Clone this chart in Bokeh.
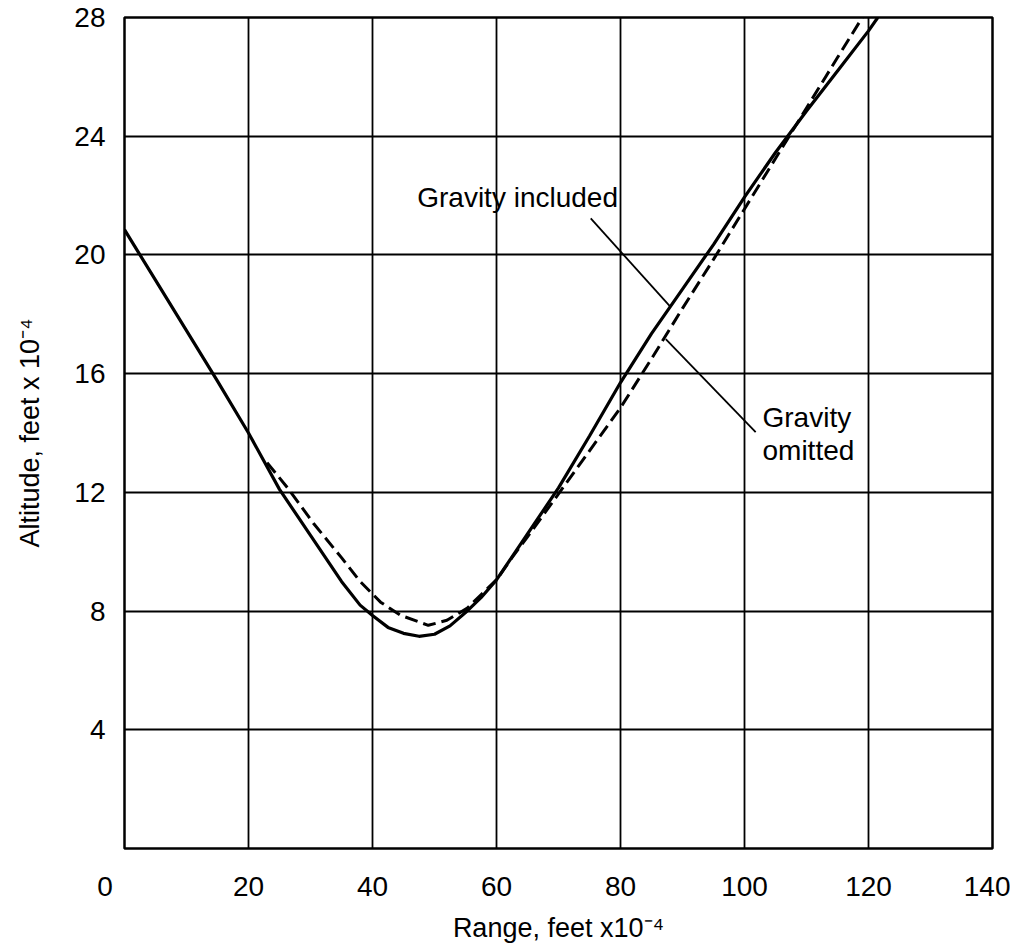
from bokeh.plotting import figure
from bokeh.models import Range1d, FixedTicker, Label
from bokeh.embed import file_html
from bokeh.resources import INLINE

# ---- data (range and altitude, feet x 10^-4) ----
incl_range = [0, 5, 10, 15, 20, 25, 30, 35, 38, 40, 42.5, 45, 47.5, 50, 52.5, 55, 57.5,
              60, 65, 70, 75, 80, 85, 90, 95, 100, 105, 110, 115, 120, 121.5]
incl_alt = [20.85, 19.15, 17.45, 15.75, 14.0, 12.1, 10.55, 9.0, 8.2, 7.85, 7.45, 7.25, 7.15,
            7.22, 7.5, 7.95, 8.45, 9.05, 10.6, 12.15, 13.9, 15.7, 17.35, 18.85, 20.35, 21.95,
            23.45, 24.85, 26.2, 27.55, 28.0]

omit_range = [23, 26.5, 30.5, 35, 38, 41.3, 44.5, 49, 52, 55.3, 57.5, 60, 62.5, 65, 70, 75,
              80, 85, 90, 95, 100, 105, 110, 115, 119]
omit_alt = [13.0, 12.1, 10.95, 9.8, 9.0, 8.3, 7.86, 7.52, 7.69, 8.1, 8.55, 9.05, 9.8, 10.5,
            11.95, 13.4, 14.85, 16.5, 18.2, 19.85, 21.55, 23.25, 24.95, 26.65, 28.0]

x_ticks = [0, 20, 40, 60, 80, 100, 120, 140]
y_ticks = [0, 4, 8, 12, 16, 20, 24, 28]

FONT = "Liberation Sans"
NBSP = "\u00a0"

p = figure(width=1010, height=945, x_range=Range1d(0, 140), y_range=Range1d(0, 28),
           output_backend="svg", toolbar_location=None,
           min_border_left=124, min_border_right=18, min_border_top=17, min_border_bottom=97)
p.background_fill_color = "white"
p.border_fill_color = "white"
p.outline_line_color = "black"
p.outline_line_width = 2.5

for ax in (p.xaxis[0], p.yaxis[0]):
    ax.axis_line_color = None
    ax.major_tick_in = 0
    ax.major_tick_out = 0
    ax.minor_tick_line_color = None
    ax.major_label_text_font = FONT
    ax.major_label_text_font_size = "28px"
    ax.major_label_text_color = "black"
    ax.axis_label_text_font = FONT
    ax.axis_label_text_font_style = "normal"
    ax.axis_label_text_color = "black"

p.xaxis.ticker = FixedTicker(ticks=x_ticks)
p.yaxis.ticker = FixedTicker(ticks=y_ticks)
# the origin label sits left of the corner in the original drawing
p.xaxis.major_label_overrides = {0: "0" + NBSP * 5}
p.yaxis.major_label_overrides = {0: ""}
p.xaxis.major_label_standoff = 22
p.yaxis.major_label_standoff = 19
p.xaxis.axis_label = "Range, feet x10⁻⁴"
p.yaxis.axis_label = "Altitude, feet x 10⁻⁴"
p.xaxis.axis_label_text_font_size = "27px"
p.yaxis.axis_label_text_font_size = "27px"
p.xaxis.axis_label_standoff = 8
p.yaxis.axis_label_standoff = 26

p.xgrid.ticker = FixedTicker(ticks=x_ticks)
p.ygrid.ticker = FixedTicker(ticks=y_ticks)
for g in (p.xgrid[0], p.ygrid[0]):
    g.grid_line_color = "black"
    g.grid_line_alpha = 1.0
    g.grid_line_width = 1.8

p.line(incl_range, incl_alt, line_color="black", line_width=3.2)
p.line(omit_range, omit_alt, line_color="black", line_width=3.0, line_dash="13 6")

# leader lines for the annotations
p.segment(x0=[75.2, 87.3], y0=[21.23, 17.16], x1=[88.1, 101.8], y1=[18.24, 14.03],
          line_color="black", line_width=1.8)

p.add_layout(Label(x=63.4, y=21.94, text="Gravity included", text_align="center",
                   text_baseline="middle", text_font=FONT, text_font_size="28px",
                   text_color="black"))
p.add_layout(Label(x=102.9, y=14.53, text="Gravity", text_align="left",
                   text_baseline="middle", text_font=FONT, text_font_size="28px",
                   text_color="black"))
p.add_layout(Label(x=102.9, y=13.42, text="omitted", text_align="left",
                   text_baseline="middle", text_font=FONT, text_font_size="28px",
                   text_color="black"))

open("out.html", "w").write(file_html(p, INLINE))
